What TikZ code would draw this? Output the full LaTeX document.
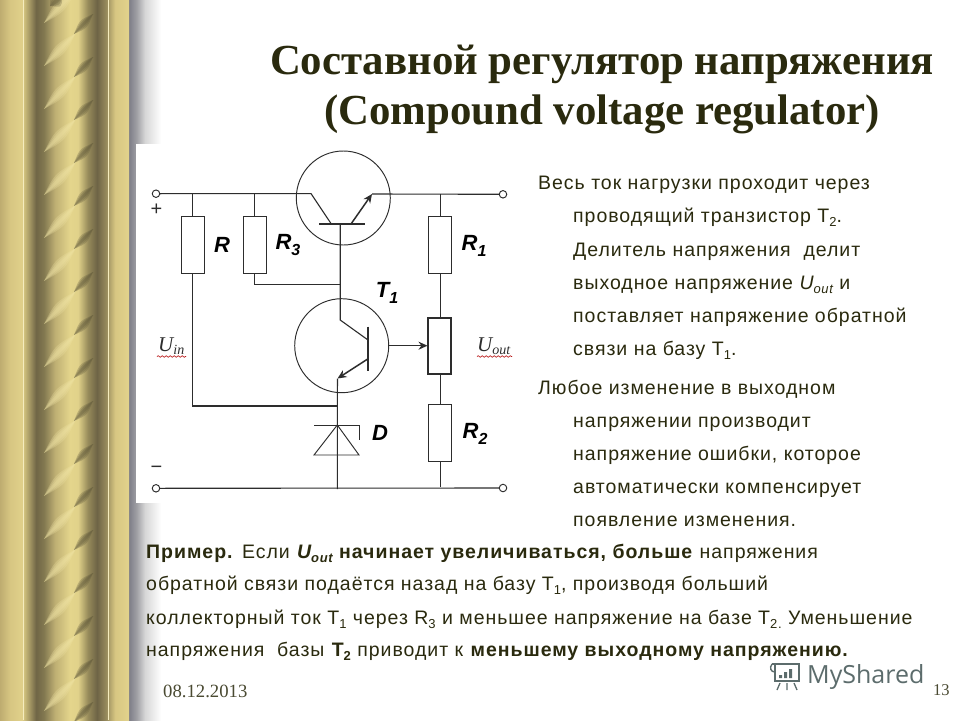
\documentclass[tikz,border=0pt]{standalone}
\usepackage{fontspec}
\setmainfont{Liberation Sans}
\newfontfamily\bodyface[LetterSpace=5]{Liberation Sans}
\newfontfamily\serifface{Liberation Serif}
\newfontfamily\markface{Open Sans}
\usetikzlibrary{arrows.meta,decorations.pathmorphing}
\definecolor{ink}{RGB}{42,42,14}
\definecolor{wire}{RGB}{45,45,45}
\definecolor{bandlight}{RGB}{240,228,165}
\definecolor{banddark}{RGB}{95,88,58}
\definecolor{paleline}{RGB}{245,236,190}
\definecolor{markgray}{RGB}{92,108,108}
\definecolor{gA}{RGB}{190,172,112}
\definecolor{gB}{RGB}{215,198,130}
\definecolor{gC}{RGB}{224,208,138}
\definecolor{gD}{RGB}{200,185,120}
\definecolor{gE}{RGB}{112,102,70}
\definecolor{gF}{RGB}{130,120,80}
\definecolor{gG}{RGB}{190,175,115}
\definecolor{gH}{RGB}{228,213,140}
\definecolor{gI}{RGB}{225,210,138}
\definecolor{gJ}{RGB}{150,138,90}
\definecolor{gK}{RGB}{110,100,70}
\definecolor{gL}{RGB}{150,138,92}
\definecolor{gM}{RGB}{215,198,130}
\definecolor{gN}{RGB}{226,211,140}
\definecolor{sA}{RGB}{125,125,135}
\definecolor{sB}{RGB}{160,160,165}
\definecolor{sC}{RGB}{215,215,215}
\pgfdeclarehorizontalshading{goldcol}{100bp}{
 color(0bp)=(gA);
 color(25bp)=(gA);
 color(28.9bp)=(gB);
 color(33.5bp)=(gC);
 color(34.7bp)=(gD);
 color(39bp)=(gE);
 color(42bp)=(gF);
 color(46.3bp)=(gG);
 color(52.1bp)=(gH);
 color(55.2bp)=(gI);
 color(59.1bp)=(gJ);
 color(62.6bp)=(gK);
 color(66.1bp)=(gL);
 color(69.6bp)=(gM);
 color(75bp)=(gN);
 color(100bp)=(gN)}
\pgfdeclarehorizontalshading{sidefade}{100bp}{
 color(0bp)=(sA);
 color(25bp)=(sA);
 color(37bp)=(sB);
 color(50bp)=(sC);
 color(75bp)=(white);
 color(100bp)=(white)}
\newcommand{\fsz}[1]{\fontsize{#1}{#1}\selectfont}
\newcommand{\lowr}[1]{\raisebox{-0.25em}{\fontsize{13}{13}\selectfont #1}}
\newcommand{\lowc}[1]{\raisebox{-0.28em}{\fontsize{16}{16}\selectfont #1}}
\newcommand{\uo}{\textit{U\lowr{out}}}
\tikzset{
 x=1pt,y=-1pt,
 wirestyle/.style={draw=wire,line width=1.1pt},
 thin wire/.style={draw=wire,line width=0.95pt},
 heavybar/.style={draw=wire,line width=2.4pt},
 resbox/.style={draw=wire,line width=1.05pt,fill=white,rectangle,inner sep=0pt,minimum width=23pt,minimum height=57pt},
 potbox/.style={resbox,minimum height=56pt},
 termdot/.style={draw=wire,line width=0.95pt,fill=white,circle,inner sep=0pt,minimum size=7.5pt},
 transring/.style={draw=wire,line width=0.95pt,circle,inner sep=0pt,minimum size=94pt},
 arrowed/.style={line width=1.5pt,-{Stealth[length=9pt,width=8pt]}},
 bodyline/.style={anchor=base west,inner sep=0pt,text=ink,font=\bodyface\fsz{19.5}},
 titleline/.style={anchor=base,inner sep=0pt,text=ink,font=\serifface\bfseries\fsz{42.8}},
 partlabel/.style={anchor=center,inner sep=0pt,text=black,font=\bfseries\itshape\fsz{22}},
 voltlabel/.style={anchor=base west,inner sep=0pt,text=wire,font=\serifface\itshape\fsz{21}},
 squiggle/.style={draw=red!70!black,line width=0.6pt,decorate,decoration={snake,amplitude=0.8pt,segment length=4pt}},
 footline/.style={anchor=base west,inner sep=0pt,text=ink!85,font=\serifface\fsz{18.7}},
 lens/.style={opacity=0.28}
}
\newcommand{\streak}[6]{% x1 y1 x2 y2 half width colour
 \foreach \w in {1,0.66,0.33}{
  \fill[#6,lens] (#1,#2) .. controls ({(#1+#3)/2-#5*\w},{(#2+#4)/2-#5*\w}) .. (#3,#4)
    .. controls ({(#1+#3)/2+#5*\w},{(#2+#4)/2+#5*\w}) .. cycle;
 }}
\begin{document}
\begin{tikzpicture}
\useasboundingbox (0,0) rectangle (960,720);
\fill[white] (0,0) rectangle (960,720);
% shadow and column
\shade[shading=sidefade] (129,0) rectangle (161,720);
\shade[shading=goldcol] (0,0) rectangle (129,720);
\begin{scope}
 \clip (36,0) rectangle (100,720);
 \foreach \k in {-1,...,17}{
  \pgfmathsetmacro{\yy}{43*\k}
  \streak{44}{\yy+66}{76}{\yy+33}{5}{bandlight}
  \streak{74}{\yy+34}{93}{\yy+14}{4}{banddark}
 }
 \streak{50}{6}{62}{-3}{6}{banddark}
\end{scope}
\draw[paleline,line width=0.7pt] (23.5,0) -- (23.5,720);
\draw[paleline,line width=0.7pt] (108.5,0) -- (108.5,720);
% picture panel
\fill[white] (136,144) rectangle (520,503);
% title
\node[titleline] (title1) at (602,74) {Составной регулятор напряжения};
\node[titleline] (title2) at (602,124) {(Compound voltage regulator)};
% circuit terminals and anchors
\node[termdot] (tl) at (156,193.7) {};
\node[termdot] (tr) at (503,194.3) {};
\node[termdot] (bl) at (156,488.3) {};
\node[termdot] (br) at (503,488) {};
\node[resbox] (R) at (192.7,245.3) {};
\node[resbox] (Rb) at (254.7,245.3) {};
\node[resbox] (Ra) at (440.3,245.3) {};
\node[potbox] (P) at (439.5,346) {};
\node[resbox] (Rc) at (440.3,433) {};
\node[transring] (Tb) at (343.3,198) {};
\node[transring] (Ta) at (341.7,345.7) {};
\coordinate (topR) at (192.7,193.7);
\coordinate (topRb) at (254.7,193.7);
\coordinate (topRa) at (440.3,194);
\coordinate (botRc) at (440.3,487);
\coordinate (cb) at (311,193.6);
\coordinate (cbe) at (331,223.5);
\coordinate (eb) at (372,194);
\coordinate (ebs) at (351,224);
\coordinate (barbl) at (319,224);
\coordinate (barbr) at (364.5,224);
\coordinate (baseb) at (340.2,224);
\coordinate (junc) at (340.2,284.3);
\coordinate (colla) at (340.2,320);
\coordinate (ce) at (368,340);
\coordinate (barat) at (367.7,326.5);
\coordinate (barab) at (367.7,371);
\coordinate (eas) at (367.7,359);
\coordinate (eae) at (337.5,378.5);
\coordinate (leftjunc) at (337.3,406);
\coordinate (zapex) at (337.3,425);
\coordinate (zbl) at (314,425);
\coordinate (zbr) at (359,425);
\coordinate (ztick) at (359,439.5);
\coordinate (ztl) at (314,455);
\coordinate (ztr) at (359,455);
\coordinate (botd) at (337.3,489);
% wires
\draw[wirestyle] (tl) -- (cb) -- (cbe);
\draw[wirestyle] (eb) -- (tr);
\draw[wirestyle] (bl) -- (br);
\draw[wirestyle] (topR) -- (R.north);
\draw[wirestyle] (topRb) -- (Rb.north);
\draw[wirestyle] (topRa) -- (Ra.north);
\draw[wirestyle] (Ra.south) -- (Ra.south |- P.north);
\draw[wirestyle] (Ra.south |- P.south) -- (Rc.north);
\draw[wirestyle] (Rc.south) -- (botRc);
\draw[wirestyle] (R.south) |- (leftjunc);
\draw[wirestyle] (Rb.south) |- (junc);
\draw[wirestyle] (baseb) -- (junc) -- (colla) -- (ce);
\draw[heavybar] (barbl) -- (barbr);
\draw[heavybar] (barat) -- (barab);
\draw[wirestyle,arrowed] (ebs) -- (eb);
\draw[wirestyle,arrowed] (eas) -- (eae);
\draw[wirestyle] (eae) -- (leftjunc) -- (botd);
\draw[wirestyle,arrowed] (Ta.east) -- (Ta.east -| P.west);
\draw[thin wire] (ztick) -- (zbr) -- (zbl);
\draw[thin wire] (zapex) -- (ztl) -- (ztr) -- cycle;
% polarity signs
\node[inner sep=0pt,text=wire,font=\fsz{20}] (plus) at (156.5,210) {+};
\node[inner sep=0pt,text=wire,font=\fsz{20}] (minus) at (156.5,470) {−};
% part labels
\node[partlabel] (lR) at (222,245) {R};
\node[partlabel] (lRb) at (288,245) {R\lowc{3}};
\node[partlabel] (lRa) at (474,246) {R\lowc{1}};
\node[partlabel] (lT) at (387,293) {T\lowc{1}};
\node[partlabel] (lD) at (380,433) {D};
\node[partlabel] (lRc) at (475,434) {R\lowc{2}};
\node[voltlabel] (lUin) at (158,351) {U\raisebox{-0.15em}{\fsz{14}in}};
\node[voltlabel] (lUout) at (477,351) {U\raisebox{-0.15em}{\fsz{14}out}};
\coordinate (sq1) at (157,356.5);
\coordinate (sq2) at (186,356.5);
\coordinate (sq3) at (477,356.5);
\coordinate (sq4) at (512,356.5);
\draw[squiggle] (sq1) -- (sq2);
\draw[squiggle] (sq3) -- (sq4);
% right column
\node[bodyline] (a1) at (538,189) {Весь ток нагрузки проходит через};
\node[bodyline] (a2) at (573,222) {проводящий транзистор Т\lowr{2}.};
\node[bodyline] (a3) at (573,256) {Делитель напряжения\ \ делит};
\node[bodyline] (a4) at (573,289) {выходное напряжение \uo{} и};
\node[bodyline] (a5) at (573,322) {поставляет напряжение обратной};
\node[bodyline] (a6) at (573,355) {связи на базу Т\lowr{1}.};
\node[bodyline] (b1) at (538,394) {Любое изменение в выходном};
\node[bodyline] (b2) at (573,427) {напряжении производит};
\node[bodyline] (b3) at (573,460) {напряжение ошибки, которое};
\node[bodyline] (b4) at (573,493) {автоматически компенсирует};
\node[bodyline] (b5) at (573,526) {появление изменения.};
% example
\node[bodyline] (c1) at (146,558) {\textbf{Пример.} Если \textbf{\textit{U\lowr{out}} начинает увеличиваться, больше} напряжения};
\node[bodyline] (c2) at (146,590) {обратной связи подаётся назад на базу Т\lowr{1}, производя больший};
\node[bodyline] (c3) at (146,624) {коллекторный ток Т\lowr{1} через R\lowr{3} и меньшее напряжение на базе Т\lowr{2.} Уменьшение};
\node[bodyline] (c4) at (146,656) {напряжения\ \ базы \textbf{Т\lowr{2}} приводит к \textbf{меньшему выходному напряжению.}};
% footer
\node[footline] (date) at (163,697) {08.12.2013};
\node[footline,font=\serifface\fsz{16.5}] (page) at (933,695) {13};
% watermark
\node[anchor=base west,inner sep=0pt,text=markgray,font=\markface\fsz{25}] (mark) at (807,683) {MyShared};
\draw[markgray,line width=1.6pt,fill=white] (772,664) -- (800,664) (775,664) rectangle (799,681);
\draw[markgray,line width=1.4pt] (772,664) .. controls (769,668) and (771,672) .. (775,672);
\fill[markgray] (779,675) rectangle (782,678) (784,672) rectangle (787,678) (789,669) rectangle (792,678);
\draw[markgray,line width=1.3pt] (780,683) -- (777,690) (787,683) -- (787,690) (794,683) -- (797,690);
\end{tikzpicture}
\end{document}
